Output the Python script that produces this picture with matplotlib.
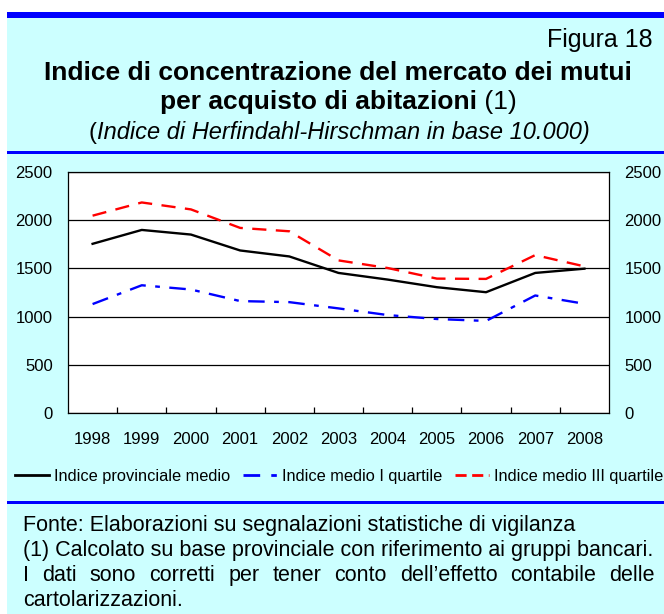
import matplotlib
matplotlib.use("Agg")
import matplotlib.pyplot as plt
from matplotlib.lines import Line2D
from matplotlib.patches import Rectangle

plt.rcParams['font.family'] = ['Liberation Sans', 'DejaVu Sans']

anni = ['1998', '1999', '2000', '2001', '2002', '2003', '2004', '2005', '2006', '2007', '2008']
provinciale_medio = [1755, 1899, 1851, 1686, 1624, 1453, 1384, 1305, 1253, 1453, 1497]
medio_I_quartile = [1130, 1325, 1281, 1161, 1150, 1085, 1016, 975, 955, 1219, 1133]
medio_III_quartile = [2047, 2184, 2112, 1920, 1885, 1583, 1504, 1394, 1391, 1638, 1521]
yticks = [0, 500, 1000, 1500, 2000, 2500]

W, H = 664, 614
fig = plt.figure(figsize=(W / 100, H / 100), dpi=100)
fig.patch.set_facecolor('white')
renderer = fig.canvas.get_renderer()

def fx(x):
    return x / W

def fy(y):
    return 1 - y / H

# sfondo azzurro e linee blu
fig.patches.append(Rectangle((fx(7), 0), 1, fy(15), transform=fig.transFigure,
                             facecolor='#ccffff', edgecolor='none', zorder=-2))
for y0, y1 in [(12, 17.5), (150.5, 153.5), (500.5, 503.5)]:
    fig.patches.append(Rectangle((fx(7), fy(y1)), 1, (y1 - y0) / H, transform=fig.transFigure,
                                 facecolor='#0000ff', edgecolor='none', zorder=-1))

def riga(pezzi, xc, y):
    # pezzi di testo con stili diversi, centrati insieme su xc (y = linea di base)
    objs = [fig.text(0, fy(y), s, ha='left', va='baseline', **kw) for s, kw in pezzi]
    ws = [t.get_window_extent(renderer).width for t in objs]
    pos = xc - sum(ws) / 2
    for t, w in zip(objs, ws):
        t.set_x(fx(pos))
        pos += w

# titoli
fig.text(fx(653), fy(40), 'Figura 18', ha='right', va='center', fontsize=18)
riga([('Indice di concentrazione del mercato dei mutui', dict(fontsize=19, fontweight='bold'))], 338, 79.5)
riga([('per acquisto di abitazioni', dict(fontsize=19, fontweight='bold')),
      (' (1)', dict(fontsize=19))], 338, 109.5)
riga([('(', dict(fontsize=17)),
      ('Indice di Herfindahl-Hirschman in base 10.000)', dict(fontsize=17, style='italic'))], 339, 138.5)

# grafico
ax = fig.add_axes([fx(68), fy(413), fx(609 - 68), (413 - 172) / H])
ax.set_zorder(2)
ax.set_facecolor('white')
x = range(len(anni))
ax.plot(x, provinciale_medio, color='black', lw=1.7)
ax.plot(x, medio_I_quartile, color='#0000ff', lw=1.7, dashes=(7, 4, 2, 4))
ax.plot(x, medio_III_quartile, color='#ff0000', lw=1.7, dashes=(6, 4))
ax.set_xlim(-0.5, len(anni) - 0.5)
ax.set_ylim(0, 2500)
ax.set_yticks(yticks)
ax.yaxis.grid(True, color='black', lw=0.9)
ax.set_axisbelow(True)
ax.tick_params(axis='y', length=0, labelsize=12, pad=11, labelright=True)
ax.set_xticks(list(x))
ax.set_xticklabels(anni)
ax.set_xticks([i + 0.5 for i in range(len(anni) - 1)], minor=True)
ax.tick_params(axis='x', which='major', length=0, labelsize=12, pad=14)
ax.tick_params(axis='x', which='minor', direction='in', length=4, width=0.9)
for s in ax.spines.values():
    s.set_linewidth(0.9)

# legenda
handles = [Line2D([], [], color='black', lw=2),
           Line2D([], [], color='#0000ff', lw=2, dashes=(6, 4, 2, 4)),
           Line2D([], [], color='#ff0000', lw=2, dashes=(4, 2))]
labels = ['Indice provinciale medio', 'Indice medio I quartile', 'Indice medio III quartile']
fig.legend(handles, labels, loc='center', bbox_to_anchor=(fx(339), fy(476)), ncol=3,
           frameon=False, fontsize=11.8, handlelength=2.1, handletextpad=0.3,
           columnspacing=0.75, borderpad=0, borderaxespad=0)

# note (y = linea di base)
fs = 15.5
fig.text(fx(23), fy(531), 'Fonte: Elaborazioni su segnalazioni statistiche di vigilanza',
         ha='left', va='baseline', fontsize=fs)
fig.text(fx(23), fy(556), '(1) Calcolato su base provinciale con riferimento ai gruppi bancari.',
         ha='left', va='baseline', fontsize=fs)
fig.text(fx(23), fy(606), 'cartolarizzazioni.', ha='left', va='baseline', fontsize=fs)

# riga giustificata
words = 'I dati sono corretti per tener conto dell\u2019effetto contabile delle'.split()
objs = [fig.text(0, fy(581), w, ha='left', va='baseline', fontsize=fs) for w in words]
tw = [t.get_window_extent(renderer).width for t in objs]
left, right = 23, 655
gap = (right - left - sum(tw)) / (len(words) - 1)
pos = left
for t, w in zip(objs, tw):
    t.set_x(fx(pos))
    pos += w + gap

fig.savefig('out.png', dpi=100, facecolor='white')
